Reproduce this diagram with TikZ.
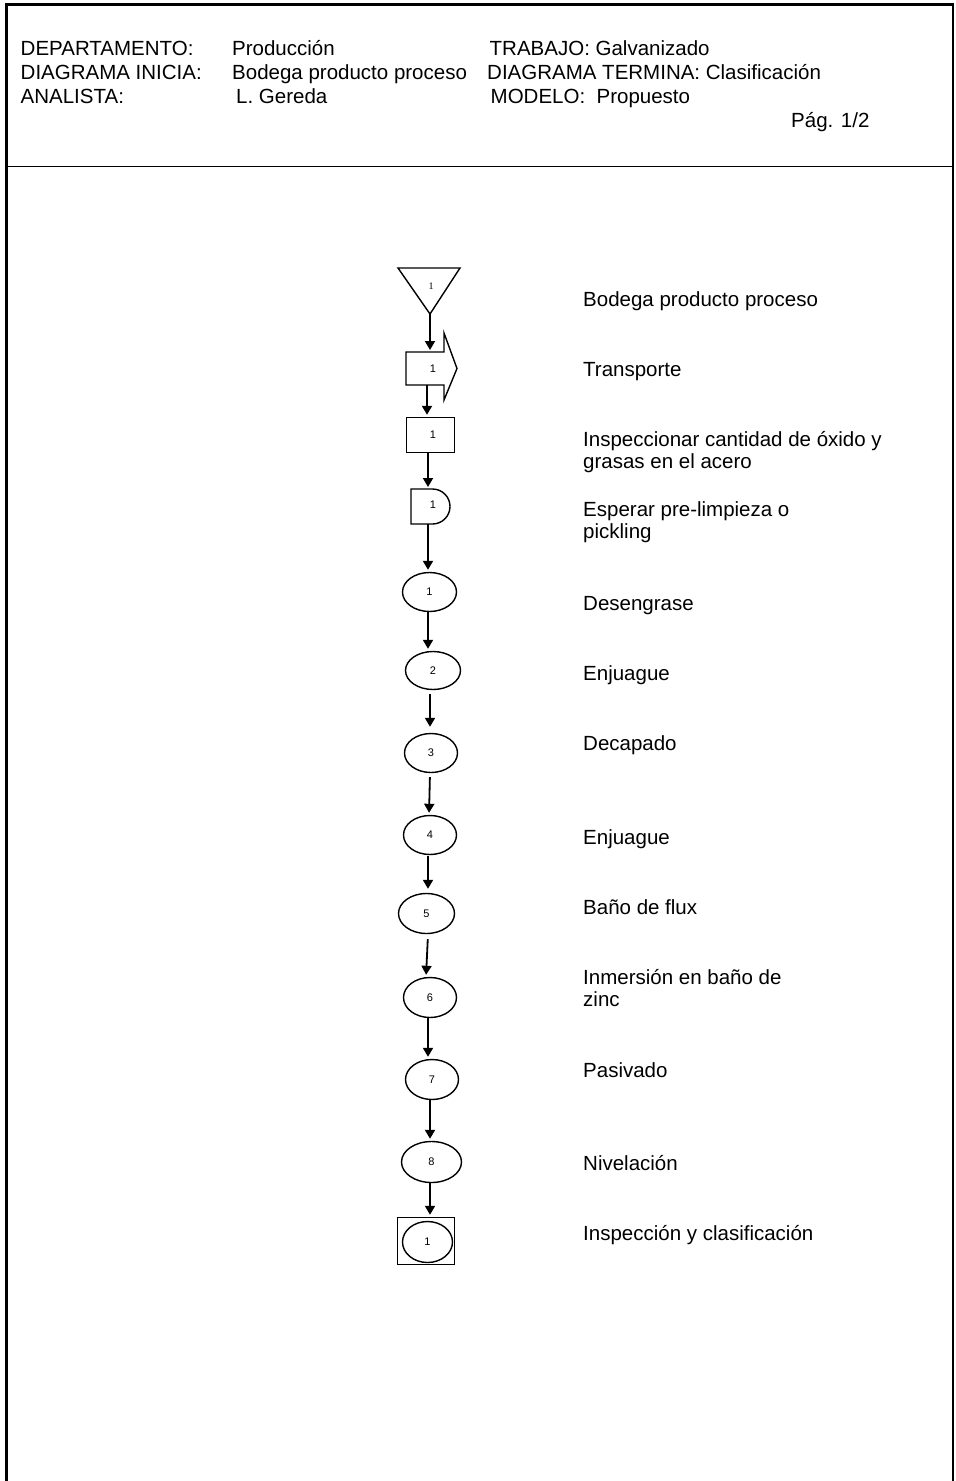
\documentclass[tikz,border=0pt]{standalone}
\usepackage{fontspec}
\setmainfont{Liberation Sans}
\newfontfamily\serifnum{Liberation Serif}
\usetikzlibrary{arrows.meta,shapes.geometric}
\begin{document}
\begin{tikzpicture}[x=1pt,y=1pt,
  lbl/.style={anchor=base west, inner sep=0pt, font=\fontsize{20.5}{22}\selectfont},
  numtxt/.style={inner sep=0pt, font=\fontsize{11}{12}\selectfont},
  shp/.style={draw, line width=1.4pt, line join=miter},
  boxshp/.style={shp, rectangle, inner sep=0pt, font=\fontsize{11}{12}\selectfont},
  oval/.style={shp, ellipse, inner sep=0pt, font=\fontsize{11}{12}\selectfont},
  arr/.style={line width=1.8pt, -{Triangle[length=9pt,width=10pt]}, shorten >=2pt},
]
\useasboundingbox (0,0) rectangle (956,-1481);
% frame
\draw[line width=2.4pt] (6.5,-1482) -- (6.5,-4.3) -- (952.8,-4.3) -- (952.8,-1482);
\draw[line width=1.4pt] (6.5,-166.7) -- (952.8,-166.7);
% header
\node[lbl] (h1a) at (20.5,-55) {DEPARTAMENTO:};
\node[lbl] (h1b) at (232,-55) {Producción};
\node[lbl] (h1c) at (489.5,-55) {TRABAJO: Galvanizado};
\node[lbl] (h2a) at (20.5,-79) {DIAGRAMA INICIA:};
\node[lbl] (h2b) at (232,-79) {Bodega producto proceso};
\node[lbl] (h2c) at (487,-79) {DIAGRAMA TERMINA: Clasificación};
\node[lbl] (h3a) at (20.5,-103) {ANALISTA:};
\node[lbl] (h3b) at (236,-103) {L. Gereda};
\node[lbl] (h3c) at (490.5,-103) {MODELO:\ \ Propuesto};
\node[lbl] (pg) at (791,-127) {Pág. 1/2};
% storage triangle
\draw[shp] (398,-268) -- (460,-268) -- (430,-314) -- cycle;
\node[inner sep=0pt, font=\serifnum\fontsize{10}{12}\selectfont] (s0) at (431,-286) {1};
\coordinate (sbot) at (430,-314);
% transport arrow
\draw[shp] (406,-352) -- (444,-352) -- (444,-333) -- (457,-368.5) -- (444,-400) -- (444,-385) -- (406,-385) -- cycle;
\node[numtxt] (t0) at (433,-368.5) {1};
\coordinate (ttop) at (430,-352);
\coordinate (tbot) at (427,-385);
% inspection box
\node[boxshp, minimum width=48pt, minimum height=35pt] (ib) at (430.5,-435) {\hspace*{5pt}1};
% delay
\draw[shp] (411,-489) -- (432.5,-489) arc[start angle=90, end angle=-90, radius=17.5pt] -- (411,-524) -- cycle;
\node[numtxt] (d0) at (433,-505) {1};
\coordinate (dtop) at (428,-489);
\coordinate (dbot) at (428,-524);
% operations
\node[oval, minimum width=54pt, minimum height=39pt] (e1) at (429.5,-592) {1};
\node[oval, minimum width=55pt, minimum height=38pt] (e2) at (433,-670.5) {2};
\node[oval, minimum width=53pt, minimum height=39pt] (e3) at (431,-753) {3};
\node[oval, minimum width=53pt, minimum height=39pt] (e4) at (430,-835) {4};
\node[oval, minimum width=56pt, minimum height=40pt] (e5) at (426.5,-913.5) {5};
\node[oval, minimum width=53pt, minimum height=40pt] (e6) at (430,-997.5) {6};
\node[oval, minimum width=53pt, minimum height=40pt] (e7) at (432,-1079.5) {7};
\node[oval, minimum width=60pt, minimum height=41pt] (e8) at (431.5,-1162) {8};
% combined inspection/operation
\node[boxshp, minimum width=57pt, minimum height=47pt] (fb) at (426,-1241) {};
\node[oval, minimum width=50pt, minimum height=41pt] (fe) at (427.5,-1242) {1};
% connectors
\draw[arr] (sbot) -- (ttop);
\draw[arr] (tbot) -- (tbot |- ib.north);
\draw[arr] ([xshift=-2.5pt]ib.south) -- (dtop);
\draw[arr] (dbot) -- (dbot |- e1.north);
\draw[arr] ([xshift=-1.5pt]e1.south) -- ([xshift=-5pt]e2.north);
\draw[arr, shorten <=4pt, shorten >=6pt] ([xshift=-3pt]e2.south) -- ([xshift=-1pt]e3.north);
\draw[arr, shorten <=4pt] ([xshift=-1pt]e3.south) -- ([xshift=-1pt]e4.north);
\draw[arr, shorten <=1pt, shorten >=4pt] ([xshift=-2pt]e4.south) -- ([xshift=1.5pt]e5.north);
\draw[arr, shorten <=5pt] ([xshift=1.5pt]e5.south) -- ([xshift=-4pt]e6.north);
\draw[arr] ([xshift=-2pt]e6.south) -- ([xshift=-4pt]e7.north);
\draw[arr] ([xshift=-2pt]e7.south) -- ([xshift=-1.5pt]e8.north);
\draw[arr] ([xshift=-1.5pt]e8.south) -- ([xshift=-1.5pt]e8.south |- fb.north);
% labels
\node[lbl] (l1) at (583,-306) {Bodega producto proceso};
\node[lbl] (l2) at (583,-376) {Transporte};
\node[lbl] (l3) at (583,-446) {\begin{tabular}[t]{@{}l@{}}Inspeccionar cantidad de óxido y\\grasas en el acero\end{tabular}};
\node[lbl] (l4) at (583,-516) {\begin{tabular}[t]{@{}l@{}}Esperar pre-limpieza o\\pickling\end{tabular}};
\node[lbl] (l5) at (583,-610) {Desengrase};
\node[lbl] (l6) at (583,-680) {Enjuague};
\node[lbl] (l7) at (583,-750) {Decapado};
\node[lbl] (l8) at (583,-844) {Enjuague};
\node[lbl] (l9) at (583,-914) {Baño de flux};
\node[lbl] (l10) at (583,-984) {\begin{tabular}[t]{@{}l@{}}Inmersión en baño de\\zinc\end{tabular}};
\node[lbl] (l11) at (583,-1077) {Pasivado};
\node[lbl] (l12) at (583,-1170) {Nivelación};
\node[lbl] (l13) at (583,-1240) {Inspección y clasificación};
\end{tikzpicture}
\end{document}
